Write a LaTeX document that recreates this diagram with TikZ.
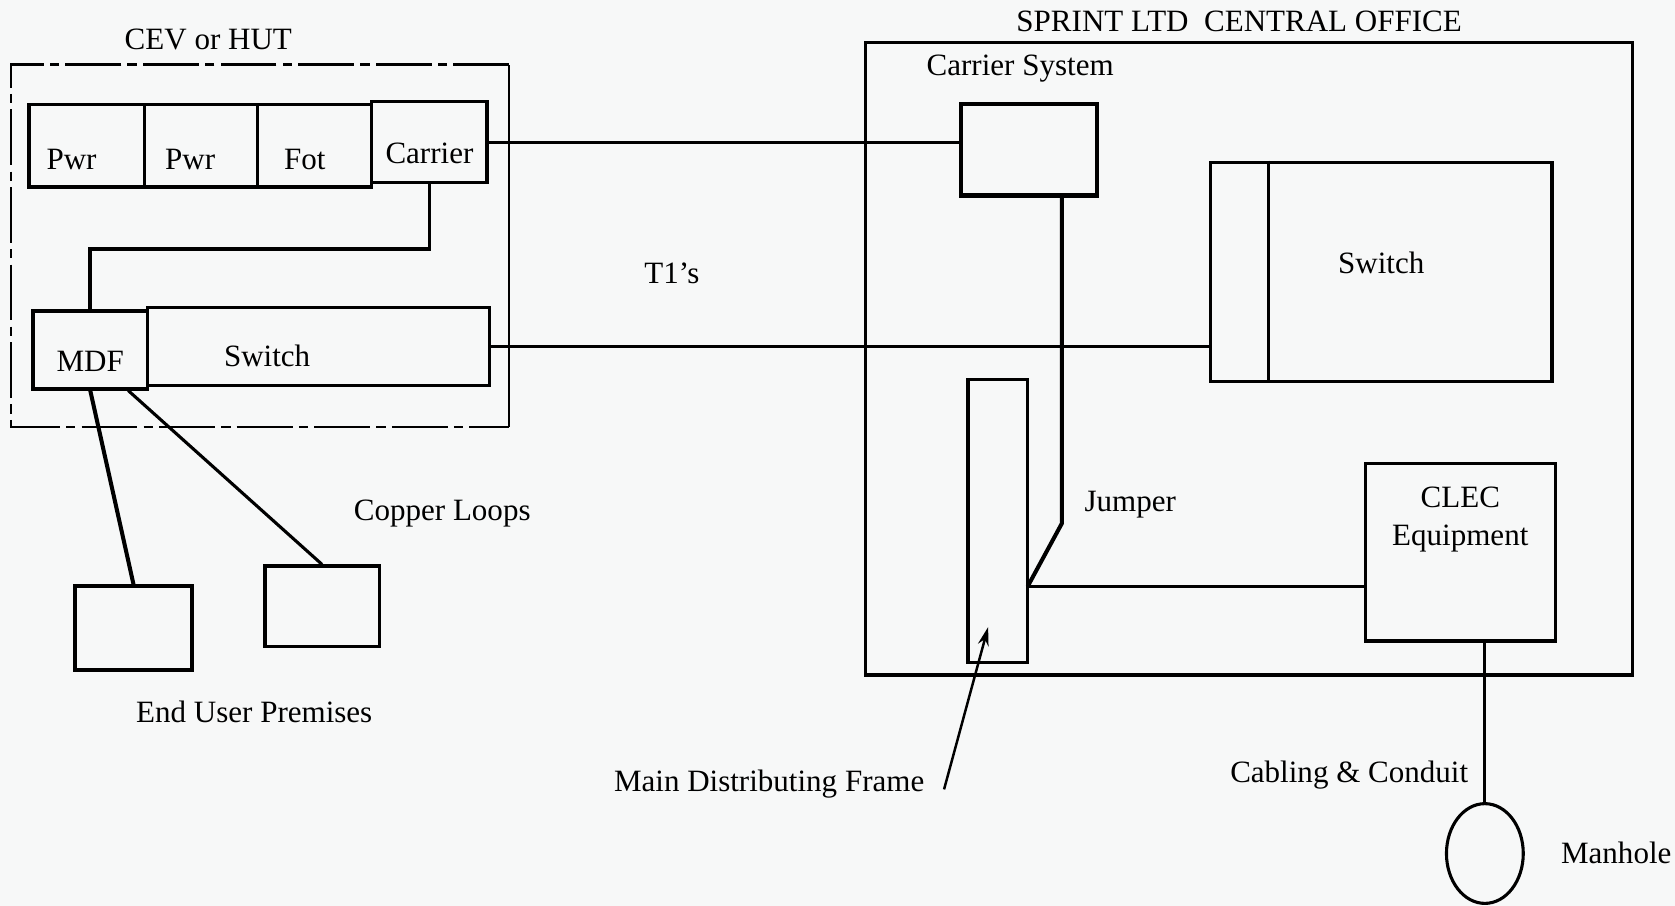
\documentclass[tikz,border=0pt]{standalone}
\usepackage{fontspec}
\setmainfont{Liberation Serif}
\usetikzlibrary{arrows.meta, fit, shapes.geometric}
\definecolor{paper}{HTML}{F7F8F8}

\begin{document}
\begin{tikzpicture}[
    x=0.0121cm, y=-0.0121cm,
    every node/.style={font=\normalsize},
    box/.style={draw, line width=1.1pt, inner sep=0pt, fit={#1}},
    wire/.style={line width=1pt},
    cevline/.style={line width=0.8pt, dash pattern=on 18pt off 2pt on 3pt off 2pt},
    pointer/.style={-{Stealth[length=6pt, width=3.5pt]}, line width=0.8pt}
]
    \fill[paper] (0,0) rectangle (1568,848);
    \useasboundingbox (0,0) rectangle (1568,848);

    % CEV / hut side
    \node[box={(12,62) (475,398)}, draw=none] (cev) {};
    \draw[cevline] (cev.north east) -- (cev.north west) -- (cev.south west) -- (cev.south east);
    \draw[wire, line width=0.8pt] (cev.south east) -- (cev.north east);
    \node (cevname) at (195,37) {CEV or HUT};

    \node[box={(27,98) (135,175)}, label={[xshift=-0.17cm, yshift=-0.16cm]center:Pwr}] (pwrA) {};
    \node[box={(135,98) (241,175)}, label={[xshift=-0.12cm, yshift=-0.16cm]center:Pwr}] (pwrB) {};
    \node[box={(241,98) (348,175)}, label={[xshift=-0.11cm, yshift=-0.15cm]center:Fot}] (fot) {};
    \node[box={(348,95) (456,171)}, label={[yshift=-0.13cm]center:Carrier}] (carrier) {};

    \node[box={(31,291) (138,364)}, label={[yshift=-0.13cm]center:MDF}] (mdf) {};
    \node[box={(138,288) (458,361)}, label={[xshift=-0.58cm, yshift=-0.11cm]center:Switch}] (swA) {};

    \coordinate (bend) at (240,233);
    \draw[wire, line width=1.2pt] (carrier.south) |- (bend) -| (mdf.north);

    % end user premises
    \node[box={(70,549) (180,627)}, line width=1.3pt] (premA) {};
    \node[box={(248,530) (355,605)}] (premB) {};
    \draw[wire, line width=1.3pt] (mdf.south) -- (premA.north);
    \draw[wire] ([xshift=0.43cm]mdf.south) -- (premB.north);
    \node (loops) at (414,481) {Copper Loops};
    \node (premname) at (238,666) {End User Premises};

    % central office
    \node[box={(810,40) (1528,632)}] (co) {};
    \node (coname) at (1160,20) {SPRINT LTD\ \ CENTRAL OFFICE};
    \node (carsysname) at (955,64) {Carrier System};
    \node[box={(900,97) (1027,183)}, line width=1.3pt] (carsys) {};
    \node[box={(1133,152) (1453,357)}, label={[yshift=0.1cm]center:Switch}] (swB) {};
    \draw[wire] ([xshift=0.68cm]swB.north west) -- ([xshift=0.68cm]swB.south west);
    \node[box={(906,355) (962,620)}] (frame) {};
    \node[box={(1278,434) (1456,600)}, label={[align=center, yshift=0.37cm]center:CLEC\\Equipment}] (clec) {};

    \node (jumpername) at (1058,472) {Jumper};
    \coordinate (jbend) at (994,490);
    \coordinate (jtap) at (962,549);
    \draw[wire, line width=1.3pt] (carsys.south -| jbend) -- (jbend) -- (jtap);
    \draw[wire, line width=1.2pt] (jtap) -- (jtap -| clec.west);

    % trunks between the sites
    \draw[wire] (carrier.east) -- (carrier.east -| carsys.west);
    \draw[wire] (swA.east) -- (swA.east -| swB.west);
    \node (tones) at (629,256) {T1's};

    % outside plant
    \node[draw, ellipse, line width=1pt, minimum width=0.87cm, minimum height=1.13cm, inner sep=0pt] (hole) at (1390,799) {};
    \draw[wire] (clec.south -| hole.north) -- (hole.north);
    \node (holename) at (1513,798) {Manhole};
    \node (cabname) at (1263,726) {Cabling \& Conduit};

    \node (mdfname) at (720,734) {Main Distributing Frame};
    \coordinate (ftip) at (925,587);
    \draw[pointer] ([xshift=0.1cm, yshift=-0.06cm]mdfname.east) -- (ftip);
\end{tikzpicture}
\end{document}
